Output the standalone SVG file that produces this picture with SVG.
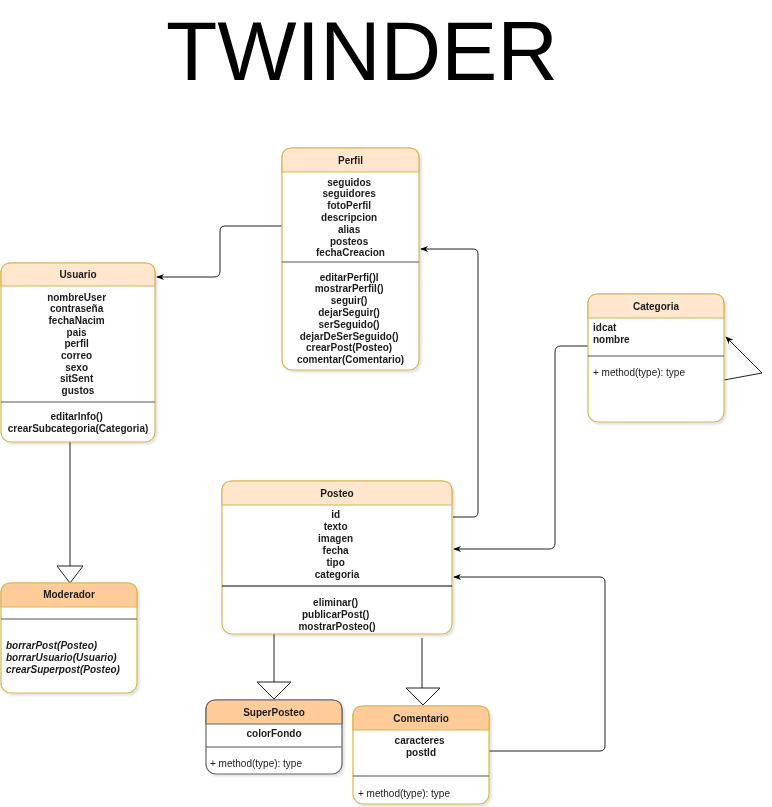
<svg xmlns="http://www.w3.org/2000/svg" width="772" height="807" viewBox="0 0 772 807">
<style>
  .box{fill:#ffffff;stroke:#d6b656;stroke-width:1.2}
  .boxg{fill:#ffffff;stroke:#666666;stroke-width:1.2}
  .hdr{fill:#ffe6cc;stroke:#d6b656;stroke-width:1.2}
  .hdr2{fill:#ffcc99;stroke:#d6b656;stroke-width:1.2}
  .hdr3{fill:#ffcc99;stroke:#666666;stroke-width:1.2}
  .sep{stroke:#555555;stroke-width:1.2}
  .t{font-family:"Liberation Sans",Arial,sans-serif;font-size:10px;font-weight:bold;fill:#1a1a1a}
  .c{text-anchor:middle}
  .r{font-weight:normal}
  .i{font-style:italic}
  .title{font-family:"Liberation Sans",Arial,sans-serif;font-size:84px;fill:#000000;text-anchor:middle}
  .conn{fill:none;stroke:#222222;stroke-width:1}
  .tri{fill:#ffffff;stroke:#222222;stroke-width:1}
</style>
<defs>
  <marker id="arr" viewBox="0 0 10 10" refX="9" refY="5" markerWidth="8" markerHeight="8" markerUnits="userSpaceOnUse" orient="auto">
    <path d="M0,1 L10,5 L0,9 L3,5 Z" fill="#000000"/>
  </marker>
  <filter id="sh" x="-10%" y="-10%" width="130%" height="130%">
    <feDropShadow dx="2" dy="2" stdDeviation="1.2" flood-color="#000000" flood-opacity="0.12"/>
  </filter>
</defs>
<rect width="772" height="807" fill="#ffffff"/>
<text class="title" x="362" y="80">TWINDER</text>

<g id="connectors">
  <path class="conn" d="M282,226 H225 Q220,226 220,231 V271 Q220,277 214,277 H157" marker-end="url(#arr)"/>
  <path class="conn" d="M453,517 H473 Q478,517 478,512 V254 Q478,249 473,249 H421" marker-end="url(#arr)"/>
  <path class="conn" d="M588,346 H561 Q555,346 555,352 V543 Q555,549 549,549 H454" marker-end="url(#arr)"/>
  <path class="conn" d="M489,751 H600 Q605,751 605,746 V582 Q605,577 600,577 H454" marker-end="url(#arr)"/>
  <path class="conn" d="M724,380 L762,373 L726,337" marker-end="url(#arr)"/>
  <line class="conn" x1="70" y1="442" x2="70" y2="566"/>
  <path class="tri" d="M57,566 H83 L70,583 Z"/>
  <line class="conn" x1="274" y1="634" x2="274" y2="682"/>
  <path class="tri" d="M257,682 H291 L274,699 Z"/>
  <line class="conn" x1="422" y1="638" x2="422" y2="688"/>
  <path class="tri" d="M406,688 H440 L423,705 Z"/>
</g>

<g id="perfil" filter="url(#sh)">
  <rect class="box" x="282" y="148" width="137" height="222" rx="10"/>
  <path class="hdr" d="M282,172 V158 Q282,148 292,148 H409 Q419,148 419,158 V172 Z"/>
  <line class="sep" x1="282" y1="262" x2="419" y2="262"/>
  <text class="t c" x="350.5" y="164">Perfil</text>
  <text class="t c" x="350.5" y="185.5">
    <tspan x="350.5">seguidos</tspan>
    <tspan x="350.5" dy="11.8">seguidores</tspan>
    <tspan x="350.5" dy="11.8">fotoPerfil</tspan>
    <tspan x="350.5" dy="11.8">descripcion</tspan>
    <tspan x="350.5" dy="11.8">alias</tspan>
    <tspan x="350.5" dy="11.8">posteos</tspan>
    <tspan x="350.5" dy="11.8">fechaCreacion</tspan>
  </text>
  <text class="t c" x="350.5" y="280.5">
    <tspan x="350.5">editarPerfi()l</tspan>
    <tspan x="350.5" dy="11.8">mostrarPerfil()</tspan>
    <tspan x="350.5" dy="11.8">seguir()</tspan>
    <tspan x="350.5" dy="11.8">dejarSeguir()</tspan>
    <tspan x="350.5" dy="11.8">serSeguido()</tspan>
    <tspan x="350.5" dy="11.8">dejarDeSerSeguido()</tspan>
    <tspan x="350.5" dy="11.8">crearPost(Posteo)</tspan>
    <tspan x="350.5" dy="11.8">comentar(Comentario)</tspan>
  </text>
</g>

<g id="usuario" filter="url(#sh)">
  <rect class="box" x="1" y="263" width="154" height="179" rx="10"/>
  <path class="hdr" d="M1,286 V273 Q1,263 11,263 H145 Q155,263 155,273 V286 Z"/>
  <line class="sep" x1="1" y1="402" x2="155" y2="402"/>
  <text class="t c" x="78" y="278">Usuario</text>
  <text class="t c" x="78" y="300.5">
    <tspan x="78">nombreUser</tspan>
    <tspan x="78" dy="11.7">contraseña</tspan>
    <tspan x="78" dy="11.7">fechaNacim</tspan>
    <tspan x="78" dy="11.7">pais</tspan>
    <tspan x="78" dy="11.7">perfil</tspan>
    <tspan x="78" dy="11.7">correo</tspan>
    <tspan x="78" dy="11.7">sexo</tspan>
    <tspan x="78" dy="11.7">sitSent</tspan>
    <tspan x="78" dy="11.7">gustos</tspan>
  </text>
  <text class="t c" x="78" y="419.5">
    <tspan x="78">editarInfo()</tspan>
    <tspan x="78" dy="12.5">crearSubcategoria(Categoria)</tspan>
  </text>
</g>

<g id="categoria" filter="url(#sh)">
  <rect class="box" x="588" y="294" width="136" height="128" rx="10"/>
  <path class="hdr" d="M588,318 V304 Q588,294 598,294 H714 Q724,294 724,304 V318 Z"/>
  <line class="sep" x1="588" y1="356" x2="724" y2="356" stroke="#888888"/>
  <text class="t c" x="656" y="310">Categoria</text>
  <text class="t" x="593" y="330.5">
    <tspan x="593">idcat</tspan>
    <tspan x="593" dy="12.5">nombre</tspan>
  </text>
  <text class="t r" x="593" y="375.5">+ method(type): type</text>
</g>

<g id="posteo" filter="url(#sh)">
  <rect class="box" x="222" y="481" width="230" height="153" rx="10"/>
  <path class="hdr" d="M222,505 V491 Q222,481 232,481 H442 Q452,481 452,491 V505 Z"/>
  <line x1="222" y1="586" x2="452" y2="586" stroke="#000000" stroke-width="1.2"/>
  <text class="t c" x="337" y="497">Posteo</text>
  <text class="t c" x="337" y="517.5">
    <tspan x="337">id</tspan>
    <tspan x="337" dy="12">texto</tspan>
    <tspan x="337" dy="12">imagen</tspan>
    <tspan x="337" dy="12">fecha</tspan>
    <tspan x="337" dy="12">tipo</tspan>
    <tspan x="337" dy="12">categoria</tspan>
  </text>
  <text class="t c" x="337" y="605.5">
    <tspan x="337">eliminar()</tspan>
    <tspan x="337" dy="12">publicarPost()</tspan>
    <tspan x="337" dy="12">mostrarPosteo()</tspan>
  </text>
</g>

<g id="moderador" filter="url(#sh)">
  <rect class="box" x="1" y="583" width="136" height="110" rx="10"/>
  <path class="hdr2" d="M1,607 V593 Q1,583 11,583 H127 Q137,583 137,593 V607 Z"/>
  <line class="sep" x1="1" y1="619" x2="137" y2="619"/>
  <text class="t c" x="69" y="598">Moderador</text>
  <text class="t i" x="6" y="648.5">
    <tspan x="6">borrarPost(Posteo)</tspan>
    <tspan x="6" dy="12">borrarUsuario(Usuario)</tspan>
    <tspan x="6" dy="12">crearSuperpost(Posteo)</tspan>
  </text>
</g>

<g id="superposteo" filter="url(#sh)">
  <rect class="boxg" x="206" y="700" width="136" height="74" rx="10"/>
  <path class="hdr3" d="M206,724 V710 Q206,700 216,700 H332 Q342,700 342,710 V724 Z"/>
  <line class="sep" x1="206" y1="747" x2="342" y2="747"/>
  <text class="t c" x="274" y="716">SuperPosteo</text>
  <text class="t c" x="274" y="736.5">colorFondo</text>
  <text class="t r" x="210" y="766.5">+ method(type): type</text>
</g>

<g id="comentario" filter="url(#sh)">
  <rect class="box" x="353" y="706" width="136" height="98" rx="10"/>
  <path class="hdr2" d="M353,730 V716 Q353,706 363,706 H479 Q489,706 489,716 V730 Z"/>
  <line class="sep" x1="353" y1="776" x2="489" y2="776"/>
  <text class="t c" x="421" y="722">Comentario</text>
  <text class="t c" x="421" y="743.5">
    <tspan x="421">caracteres</tspan>
    <tspan x="421" dy="12">postId</tspan>
  </text>
  <text class="t r" x="358" y="796.5">+ method(type): type</text>
</g>
</svg>
